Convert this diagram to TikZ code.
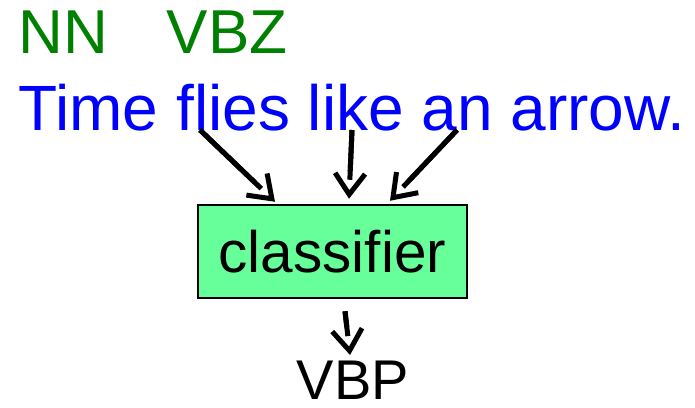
\documentclass[tikz,border=0pt]{standalone}
\usepackage{fontspec}
\setmainfont{Liberation Sans}
\usetikzlibrary{arrows.meta,calc,positioning}

\definecolor{tagGreen}{RGB}{0,128,0}
\definecolor{boxGreen}{RGB}{102,255,153}

\begin{document}
\begin{tikzpicture}[
        x=1pt, y=-1pt,
        tag/.style={anchor=base west, inner sep=0pt, text=tagGreen, font=\fontsize{62}{70}\selectfont},
        sentence/.style={anchor=base west, inner sep=0pt, text=blue, font=\fontsize{64}{70}\selectfont},
        classbox/.style={rectangle, draw=black, line width=2.5pt, fill=boxGreen, minimum width=269pt, minimum height=93pt, inner sep=0pt, font=\fontsize{58.5}{64}\selectfont},
        output/.style={anchor=base west, inner sep=0pt, font=\fontsize{56}{62}\selectfont},
        arrow/.style={line width=5pt, -{. Straight Barb[length=21pt,width=30pt]},
            postaction={draw, -, shorten >=19pt}}
    ]
        \useasboundingbox (0,0) rectangle (695,407);

        % POS tags (top row)
        \node[tag] (nn) at (18.3,53) {NN};
        \node[tag] (vbz) at (166.5,53) {VBZ};

        % Input sentence
        \node[sentence] (sent) at (18.5,130) {Time flies like an arrow.};

        % Classifier and prediction
        \node[classbox] (cls) at (332.5,251.5) {classifier};
        \node[output] (vbp) at (296.5,399) {VBP};

        % Arrow end points
        \coordinate (fromL) at (200,130);
        \coordinate (fromM) at (352,130);
        \coordinate (fromR) at (457,130);
        \coordinate (toL) at ($(cls.north)+(-57.5,-2)$);
        \coordinate (toM) at ($(cls.north)+(16.5,-5)$);
        \coordinate (toR) at ($(cls.north)+(57.5,-3)$);
        \coordinate (fromB) at ($(cls.south)+(12.5,12)$);
        \coordinate (toB) at (350,355);

        % Features into the classifier
        \draw[arrow] (fromL) -- (toL);
        \draw[arrow] (fromM) -- (toM);
        \draw[arrow] (fromR) -- (toR);

        % Prediction
        \draw[arrow] (fromB) -- (toB);
\end{tikzpicture}
\end{document}
